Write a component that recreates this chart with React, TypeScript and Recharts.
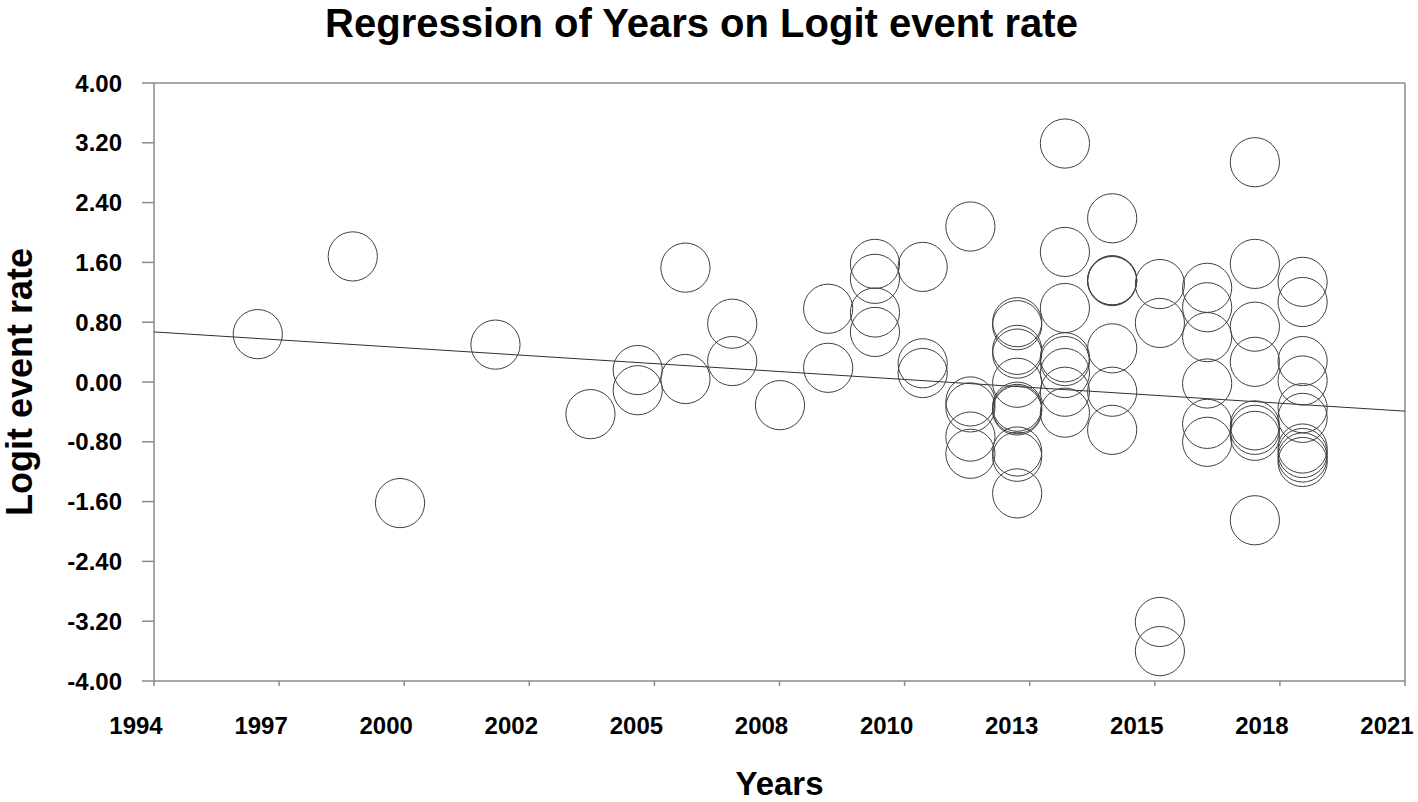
import React from 'react';
import { ScatterChart, Scatter, XAxis, YAxis, ReferenceLine, Label } from 'recharts';

const chartTitle = 'Regression of Years on Logit event rate';
const xAxisTitle = 'Years';
const yAxisTitle = 'Logit event rate';

const xTicks = [1994, 1996.7, 1999.4, 2002.1, 2004.8, 2007.5, 2010.2, 2012.9, 2015.6, 2018.3, 2021];
const xTickLabels = ['1994', '1997', '2000', '2002', '2005', '2008', '2010', '2013', '2015', '2018', '2021'];
const yTicks = [-4, -3.2, -2.4, -1.6, -0.8, 0, 0.8, 1.6, 2.4, 3.2, 4];

const studyYears = [
  1996.24, 1998.29, 1999.31, 2001.37, 2003.42,
  2004.44, 2004.44,
  2005.47, 2005.47,
  2006.48, 2006.48,
  2007.51,
  2008.55, 2008.55,
  2009.56, 2009.56, 2009.56, 2009.56,
  2010.59, 2010.59, 2010.59,
  2011.62, 2011.62, 2011.62, 2011.62, 2011.62,
  2012.63, 2012.63, 2012.63, 2012.63, 2012.63, 2012.63, 2012.63, 2012.63, 2012.63, 2012.63, 2012.63,
  2013.66, 2013.66, 2013.66, 2013.66, 2013.66, 2013.66, 2013.66, 2013.66,
  2014.68, 2014.68, 2014.68, 2014.68, 2014.68, 2014.68, 2014.68,
  2015.71, 2015.71, 2015.71, 2015.71,
  2016.73, 2016.73, 2016.73, 2016.73, 2016.73, 2016.73,
  2017.76, 2017.76, 2017.76, 2017.76, 2017.76, 2017.76, 2017.76, 2017.76,
  2018.79, 2018.79, 2018.79, 2018.79, 2018.79, 2018.79, 2018.79, 2018.79, 2018.79, 2018.79,
];

const logitRates = [
  0.64, 1.68, -1.62, 0.50, -0.43,
  0.16, -0.11,
  0.04, 1.53,
  0.78, 0.28,
  -0.31,
  0.98, 0.19,
  1.58, 1.38, 0.93, 0.67,
  1.54, 0.25, 0.12,
  2.08, -0.26, -0.34, -0.73, -0.96,
  0.80, 0.76, 0.43, 0.38, -0.01, -0.33, -0.36, -0.38, -0.93, -1.00, -1.49,
  3.19, 1.74, 0.99, 0.33, 0.28, 0.12, -0.13, -0.41,
  2.19, 1.36, 1.36, 1.35, 0.45, -0.13, -0.64,
  1.31, 0.79, -3.21, -3.60,
  1.26, 1.00, 0.60, -0.02, -0.56, -0.80,
  2.94, 1.58, 0.74, 0.27, -0.58, -0.64, -0.72, -1.85,
  1.34, 1.07, 0.28, 0.02, -0.35, -0.48, -0.89, -0.95, -1.01, -1.07,
];

const regressionYears = [1994, 2021];
const regressionValues = [0.67, -0.39];

const points = studyYears.map((x, i) => ({ x, y: logitRates[i] }));
const regression = regressionYears.map((x, i) => ({ x, y: regressionValues[i] }));

const FONT = '"Liberation Sans", Arial, Helvetica, sans-serif';
const AXIS_GRAY = '#8a8a8a';

const Bubble = (props: any) => {
  const { cx, cy } = props;
  if (cx == null || cy == null) return <g />;
  return <circle cx={cx} cy={cy} r={24.6} fill="none" stroke="#404040" strokeWidth={1} />;
};

const NoShape = () => <g />;

const YTitle = (props: any) => {
  const vb = props.viewBox || { x: 0, y: 0, width: 0, height: 0 };
  const cy = vb.y + vb.height / 2;
  return (
    <text
      transform={`translate(${vb.x + 32}, ${cy}) rotate(-90)`}
      textAnchor="middle"
      fontFamily={FONT}
      fontWeight="bold"
      fontSize={36}
      fill="#000"
    >
      {yAxisTitle}
    </text>
  );
};

const XTick = (props: any) => {
  const { x, y, payload, index } = props;
  const label = xTickLabels[index] ?? String(Math.round(payload.value));
  return (
    <text
      x={x - 18}
      y={y}
      dy="0.71em"
      textAnchor="middle"
      fontFamily={FONT}
      fontWeight="bold"
      fontSize={24}
      fill="#000"
    >
      {label}
    </text>
  );
};

export default function App() {
  return (
    <div style={{ position: 'absolute', left: 0, top: 0, width: 1418, height: 802, background: '#fff' }}>
      <div
        style={{
          position: 'absolute',
          left: 0,
          width: 1403,
          top: 3,
          textAlign: 'center',
          fontFamily: FONT,
          fontWeight: 'bold',
          fontSize: 40,
          lineHeight: '40px',
          color: '#000',
          whiteSpace: 'nowrap',
        }}
      >
        {chartTitle}
      </div>
      <ScatterChart
        width={1418}
        height={802}
        margin={{ top: 83, right: 13, bottom: 0, left: 0 }}
        style={{ position: 'absolute', left: 0, top: 0 }}
      >
        <XAxis
          type="number"
          dataKey="x"
          domain={[1994, 2021]}
          ticks={xTicks}
          height={121}
          tickSize={5}
          tickMargin={31}
          axisLine={{ stroke: AXIS_GRAY, strokeWidth: 1.5 }}
          tickLine={{ stroke: AXIS_GRAY, strokeWidth: 1.5 }}
          tick={<XTick />}
          interval={0}
          allowDataOverflow
        >
          <Label
            value={xAxisTitle}
            position="insideBottom"
            offset={7}
            style={{ fontFamily: FONT, fontWeight: 'bold', fontSize: 33, fill: '#000' }}
          />
        </XAxis>
        <YAxis
          type="number"
          dataKey="y"
          domain={[-4, 4]}
          ticks={yTicks}
          tickFormatter={(v: number) => v.toFixed(2)}
          width={154}
          tickSize={12}
          tickMargin={20}
          axisLine={{ stroke: AXIS_GRAY, strokeWidth: 1.5 }}
          tickLine={{ stroke: AXIS_GRAY, strokeWidth: 1.5 }}
          tick={{ fill: '#000', fontFamily: FONT, fontWeight: 'bold', fontSize: 24 }}
          interval={0}
          allowDataOverflow
        >
          <Label content={<YTitle />} position="insideLeft" />
        </YAxis>
        <ReferenceLine y={4} stroke={AXIS_GRAY} strokeWidth={1.5} />
        <ReferenceLine x={2021} stroke={AXIS_GRAY} strokeWidth={1.5} />
        <Scatter
          data={regression}
          line={{ stroke: '#303030', strokeWidth: 1 }}
          shape={<NoShape />}
          legendType="none"
          isAnimationActive={false}
        />
        <Scatter data={points} shape={<Bubble />} isAnimationActive={false} />
      </ScatterChart>
    </div>
  );
}
